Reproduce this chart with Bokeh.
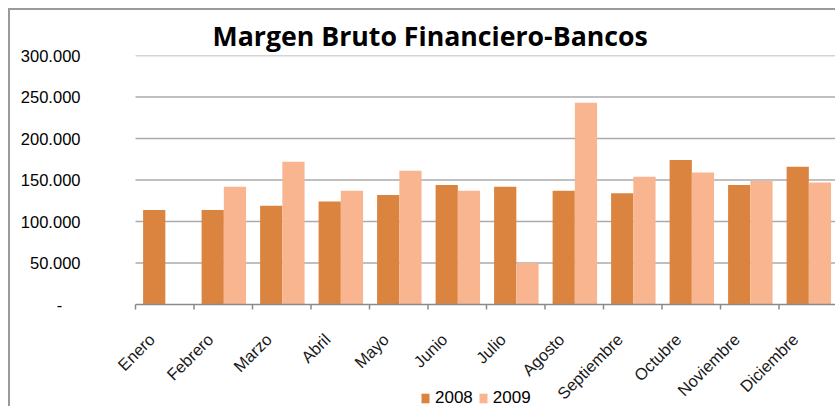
import math
import numpy as np
from bokeh.plotting import figure
from bokeh.models import ColumnDataSource, Range1d, FixedTicker, Legend, LegendItem
from bokeh.core.properties import value
from bokeh.transform import dodge
from bokeh.embed import file_html
from bokeh.resources import INLINE

months = ["Enero", "Febrero", "Marzo", "Abril", "Mayo", "Junio", "Julio",
          "Agosto", "Septiembre", "Octubre", "Noviembre", "Diciembre"]
v2008 = [114000, 114000, 119000, 124000, 132000, 144000, 142000,
         137000, 134000, 174000, 144000, 166000]
v2009 = [np.nan, 142000, 172000, 137000, 161000, 137000, 50000,
         243000, 154000, 159000, 149000, 147000]
y_ticks = [0, 50000, 100000, 150000, 200000, 250000, 300000]
y_labels = ["-\u00a0\u00a0\u00a0\u00a0", "50.000", "100.000", "150.000", "200.000", "250.000", "300.000"]
series = ["2008", "2009"]
colors = ["#DB843F", "#F8B590"]
title_text = "Margen Bruto Financiero-Bancos"

idx = list(range(len(months)))
bounds = [i - 0.5 for i in range(len(months) + 1)]
src = ColumnDataSource(dict(x=idx, m=months, a=v2008, b=v2009))

# layout (pixels)
W, H = 827, 398
PLOT_LEFT = 125                   # where the category axis starts
LEFT, TOP = 95, 45                # frame starts further left so labels are not clipped
cat_px = (W - PLOT_LEFT) / len(months)
x_start = -0.5 - (PLOT_LEFT - LEFT) / cat_px
x_end = len(months) - 0.5
frame_h = H - TOP
axis_px = 249
y_max = y_ticks[-1]
units_per_px = y_max / axis_px
y_min = -(frame_h - axis_px) * units_per_px

p = figure(width=W, height=H, x_range=Range1d(x_start, x_end),
           y_range=Range1d(y_min, y_max),
           output_backend="svg", toolbar_location=None, x_axis_location=None,
           min_border_left=LEFT, min_border_right=0, min_border_top=TOP, min_border_bottom=0,
           title=title_text)
p.margin = (8, 0, 0, 8)
p.styles = {"border-left": "2px solid #9a9a9a", "border-top": "2px solid #9a9a9a"}
p.outline_line_color = None
p.background_fill_color = "white"
p.border_fill_color = "white"
p.xgrid.visible = False
p.ygrid.visible = False

# horizontal gridlines over the category span
p.segment(x0=bounds[0], x1=bounds[-1], y0=y_ticks[1:], y1=y_ticks[1:],
          line_color="#ababab", line_width=1.5)

r1 = p.vbar(x=dodge("x", -0.18, range=p.x_range), top="a", width=0.38, source=src,
            fill_color=colors[0], line_color=None)
r2 = p.vbar(x=dodge("x", 0.2, range=p.x_range), top="b", width=0.38, source=src,
            fill_color=colors[1], line_color=None)

# title
p.title.align = "left"
p.title.offset = 107
p.title.text_font = "Open Sans"
p.title.text_font_style = "bold"
p.title.text_font_size = "26.7px"
p.title.text_color = "black"
p.title.standoff = 3

# y axis
p.yaxis.ticker = FixedTicker(ticks=y_ticks)
p.yaxis.major_label_overrides = {t: l for t, l in zip(y_ticks, y_labels)}
p.yaxis.axis_line_color = None
p.yaxis.major_tick_line_color = None
p.yaxis.minor_tick_line_color = None
p.yaxis.major_label_standoff = 49 - (PLOT_LEFT - LEFT)
p.yaxis.major_label_text_font = "Liberation Sans"
p.yaxis.major_label_text_font_size = "16.5px"
p.yaxis.major_label_text_color = "black"

# category axis drawn at value 0
p.segment(x0=bounds[0], x1=bounds[-1], y0=0, y1=0, line_color="#8a8a8a", line_width=1.5)
tick_len = 5 * units_per_px
p.segment(x0=bounds, y0=0, x1=bounds, y1=-tick_len, line_color="#8a8a8a", line_width=1.5)
p.text(x="x", y=0, text="m", source=src, angle=math.pi / 4,
       text_align="right", text_baseline="middle", x_offset=-13, y_offset=32,
       text_font=value("Liberation Sans"), text_font_size="16.5px", text_color="#1a1a1a")

legend = Legend(items=[LegendItem(label=series[0], renderers=[r1]),
                       LegendItem(label=series[1], renderers=[r2])],
                orientation="horizontal", location=(285 + PLOT_LEFT - LEFT, 0),
                glyph_width=10, glyph_height=12, label_standoff=5, spacing=5,
                padding=0, margin=0, border_line_color=None, background_fill_alpha=0,
                label_text_font="Liberation Sans", label_text_font_size="17px",
                label_text_color="black")
p.add_layout(legend, "center")

open("out.html", "w").write(file_html(p, INLINE))
